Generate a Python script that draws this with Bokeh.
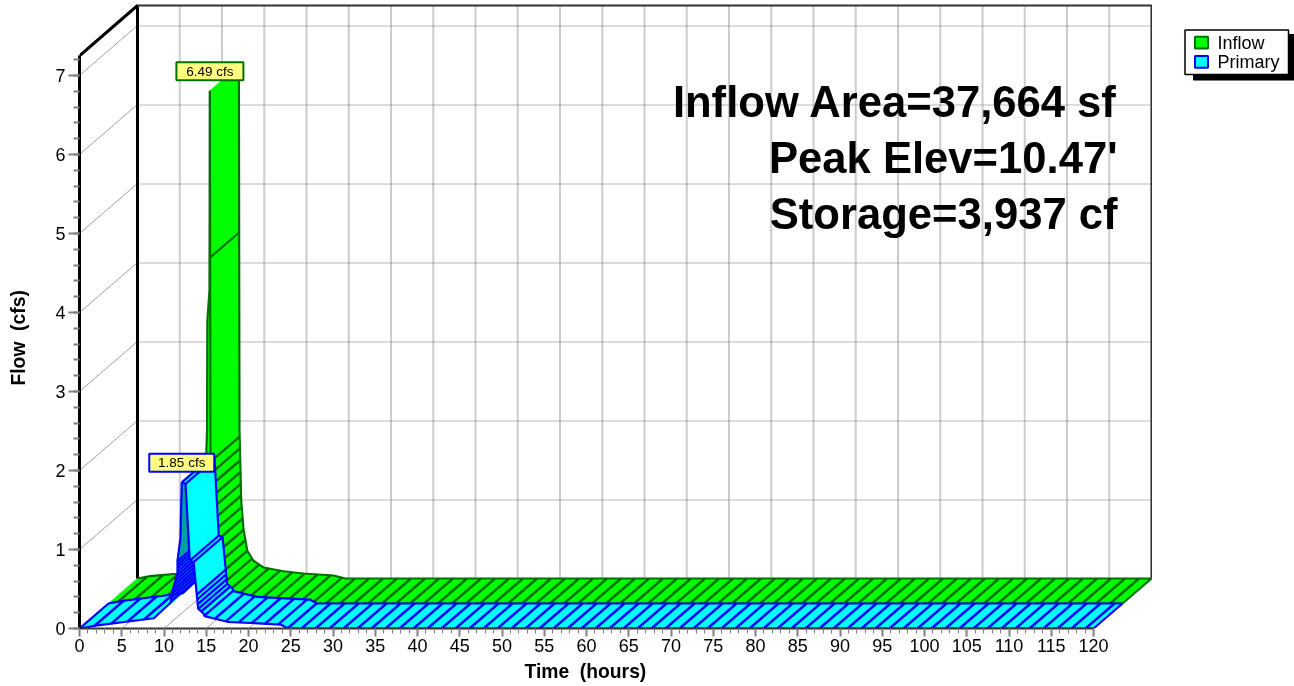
from bokeh.plotting import figure
from bokeh.layouts import row
from bokeh.models import Range1d, LinearAxis, FixedTicker, Title
from bokeh.core.properties import value
from bokeh.embed import file_html
from bokeh.resources import INLINE
import numpy as np

# ---- data ----
inflow_rise_t = [0, 1.5, 4.6, 8.0, 10.0, 11.0, 11.4, 11.66, 11.7, 11.95, 12.0]
inflow_rise_v = [0, 0.03, 0.06, 0.12, 0.30, 0.60, 1.30, 2.20, 3.58, 3.96, 6.49]
inflow_fall_t = [12.0, 12.03, 12.07, 12.27, 12.54, 12.98, 13.7, 14.9, 17.3, 19.6, 23.2, 24.6, 120]
inflow_fall_v = [6.49, 4.38, 1.87, 0.99, 0.63, 0.354, 0.228, 0.139, 0.092, 0.063, 0.038, 0, 0]
primary_rise_t = [0, 2.1, 8.8, 10.8, 11.0, 11.6, 11.6, 11.95, 12.1]
primary_rise_v = [0, 0.04, 0.13, 0.33, 0.48, 0.70, 0.86, 1.15, 1.85]
primary_fall_t = [12.1, 12.55, 13.05, 13.5, 13.85, 14.04, 14.7, 14.8, 17.5, 23.8, 24.7, 120]
primary_fall_v = [1.85, 1.83, 0.86, 0.84, 0.46, 0.25, 0.186, 0.156, 0.085, 0.05, 0, 0]
inflow_cross_t = [12.03, 120]
primary_cross_t = [12.1, 12.55, 13.05, 13.5, 120]
inflow_peak = (12.0, 6.49, "6.49 cfs")
primary_peak = (12.1, 1.85, "1.85 cfs")
notes = ["Inflow Area=37,664 sf", "Peak Elev=10.47'", "Storage=3,937 cf"]
x_ticks = list(range(0, 125, 5))
y_ticks = list(range(0, 8))
legend_labels = ["Inflow", "Primary"]

# ---- layout ----
W, H = 1294, 686
SIDE = 40                   # width of the panel with the y axis title
L, R, T, B = 79, 1152, 3, 628
PX, PY = 8.45, 79.0
DX, DY = 58 / PX, 50 / PY   # full depth of the pseudo-3D box in data units
TOP = (B - 5) / PY          # back wall top
FONT = value("Liberation Sans")
GREEN, CYAN, DGREEN, BLUE, TEAL = "#00ff00", "#00ffff", "#007000", "#0000ff", "#00a0a0"
TICK = "#808080"

side = figure(width=SIDE, height=H, output_backend="svg", toolbar_location=None,
              x_range=Range1d(0, SIDE), y_range=Range1d(H, 0), x_axis_type=None, y_axis_type=None,
              min_border=0, outline_line_color=None, background_fill_color="white")
side.grid.visible = False
side.text([18], [367], text=["Flow\u00a0\u00a0(cfs)"], angle=np.pi / 2, text_align="center", text_baseline="middle",
          text_font=FONT, text_font_size="19.3px", text_font_style="bold", text_color="black")

p = figure(width=R - SIDE, height=H, output_backend="svg", toolbar_location=None,
           x_range=Range1d(0, (R - L) / PX), y_range=Range1d(0, (B - T) / PY),
           x_axis_type=None, y_axis_type=None,
           min_border_left=L - SIDE, min_border_right=0, min_border_top=T, min_border_bottom=H - B,
           outline_line_color=None, background_fill_color="white")
p.grid.visible = False

xa = LinearAxis(ticker=FixedTicker(ticks=x_ticks, minor_ticks=list(range(0, 121))), bounds=(0, 120),
                major_label_text_font="Liberation Sans", major_label_text_color="black",
                major_label_text_font_size="18px", major_label_standoff=2,
                major_tick_out=8, major_tick_in=0, minor_tick_out=5, minor_tick_in=0,
                axis_line_color="#333333", axis_line_width=2, major_tick_line_color=TICK,
                minor_tick_line_color=TICK, major_tick_line_width=2, minor_tick_line_width=1)
ya = LinearAxis(ticker=FixedTicker(ticks=y_ticks, minor_ticks=[i / 5 for i in range(0, 37)]), bounds=(0, 7.25),
                major_label_text_font="Liberation Sans", major_label_text_color="black",
                major_label_text_font_size="18px", major_label_standoff=3,
                major_tick_out=11, major_tick_in=0, minor_tick_out=6, minor_tick_in=0,
                axis_line_color="black", axis_line_width=3, major_tick_line_color=TICK,
                minor_tick_line_color=TICK, major_tick_line_width=2, minor_tick_line_width=2)
p.add_layout(xa, "below")
p.add_layout(ya, "left")
p.add_layout(Title(text="Time\u00a0\u00a0(hours)", text_font="Liberation Sans", text_font_size="19.3px",
                   text_font_style="bold", text_color="black", align="left", offset=445, standoff=9), "below")

# walls and grids
vx = [t + DX for t in x_ticks]
p.segment(vx[1:], [DY] * (len(vx) - 1), vx[1:], [TOP] * (len(vx) - 1), line_color="#cccccc", line_width=2)
ys = y_ticks[1:]
p.segment([DX] * len(ys), [DY + y - 0.5 / PY for y in ys], [120 + DX] * len(ys), [DY + y - 0.5 / PY for y in ys],
          line_color="#707070", line_width=1, line_dash="1 1")
p.segment([0] * len(ys), ys, [DX] * len(ys), [DY + y for y in ys], line_color="#a0a0a0", line_width=1)
p.segment(x_ticks, [0] * len(x_ticks), vx, [DY] * len(vx), line_color="#a0a0a0", line_width=1)
p.line([0, DX, DX], [7.25, TOP, DY], line_color="black", line_width=3)
p.line([DX, 120 + DX, 120 + DX], [TOP, TOP, DY], line_color="#333333", line_width=2)

# annotation text lies on top of the grid
for i, s in enumerate(notes):
    p.text([(1117 - L) / PX], [(B - (101 + 56 * i)) / PY], text=[s], text_align="right",
           text_baseline="alphabetic", text_font=FONT, text_font_size="43.6px",
           text_font_style="bold", text_color="black")


def ribbon_segments(t, v, d0, d1, shade):
    xs, ys_, cols = [], [], []
    for i in range(len(t) - 1):
        xs.append([t[i] + d0 * DX, t[i + 1] + d0 * DX, t[i + 1] + d1 * DX, t[i] + d1 * DX])
        ys_.append([v[i] + d0 * DY, v[i + 1] + d0 * DY, v[i + 1] + d1 * DY, v[i] + d1 * DY])
        cols.append(shade(v[i], v[i + 1]))
    return xs, ys_, cols


def hatch_lines(t, v, d0, d1, spacing_of, phase):
    """Hatch lines run along the depth direction, equally spaced on screen."""
    x0, y0, x1, y1 = [], [], [], []
    for i in range(len(t) - 1):
        spacing = spacing_of(v[i], v[i + 1])
        if spacing is None:
            continue
        c0 = PX * t[i] - PY * (29 / 25) * v[i]
        c1 = PX * t[i + 1] - PY * (29 / 25) * v[i + 1]
        lo, hi = sorted((c0, c1))
        if hi == lo:
            continue
        for k in range(int(np.ceil((lo - phase) / spacing)), int(np.floor((hi - phase) / spacing)) + 1):
            f = (k * spacing + phase - c0) / (c1 - c0)
            tt = t[i] + f * (t[i + 1] - t[i])
            vv = v[i] + f * (v[i + 1] - v[i])
            x0.append(tt + d0 * DX); y0.append(vv + d0 * DY)
            x1.append(tt + d1 * DX); y1.append(vv + d1 * DY)
    return x0, y0, x1, y1


def draw_part(t, v, d0, d1, fill, edge, spacing_of, phase, shade=None):
    shade = shade or (lambda a, b: fill)
    xs, ys_, cols = ribbon_segments(t, v, d0, d1, shade)
    p.patches(xs, ys_, fill_color=cols, line_color=cols, line_width=0.5)
    hx = hatch_lines(t, v, d0, d1, spacing_of, phase)
    p.segment(*hx, line_color=edge, line_width=2.5)
    p.line([a + d0 * DX for a in t], [a + d0 * DY for a in v], line_color=edge, line_width=2.2)
    p.line([a + d1 * DX for a in t], [a + d1 * DY for a in v], line_color=edge, line_width=2.2)


def crosses(cross_t, t, v, d0, d1, edge):
    vv = np.interp(cross_t, t, v)
    p.segment([a + d0 * DX for a in cross_t], [a + d0 * DY for a in vv],
              [a + d1 * DX for a in cross_t], [a + d1 * DY for a in vv], line_color=edge, line_width=2.2)


def inflow_spacing(a, b):
    return 14.0 if max(a, b) <= 1.9 else None


def primary_rise_spacing(a, b):
    if max(a, b) > 0.9:
        return None
    return 4.0 if max(a, b) > 0.2 else 14.0


def primary_fall_spacing(a, b):
    if max(a, b) > 0.55:
        return None
    return 6.0 if max(a, b) > 0.2 else 14.0


# Inflow sits in the rear half of the box, Primary in the front half
draw_part(inflow_rise_t, inflow_rise_v, 0.5, 1, GREEN, DGREEN, inflow_spacing, 7.5)
draw_part(inflow_fall_t, inflow_fall_v, 0.5, 1, GREEN, DGREEN, inflow_spacing, 7.5)
crosses(inflow_cross_t, inflow_fall_t, inflow_fall_v, 0.5, 1, DGREEN)

draw_part(primary_rise_t, primary_rise_v, 0, 0.5, CYAN, BLUE, primary_rise_spacing, 12.0,
          shade=lambda a, b: TEAL if (b > a and b > 0.9) else CYAN)
draw_part(primary_fall_t, primary_fall_v, 0, 0.5, CYAN, BLUE, primary_fall_spacing, 12.0)
crosses(primary_cross_t, primary_fall_t, primary_fall_v, 0, 0.5, BLUE)
p.segment([0], [0], [0.5 * DX], [0.5 * DY], line_color=BLUE, line_width=2.2)


# peak flags
def flag(peak, d, half_w, edge):
    t, v, s = peak
    cx = t + d * DX
    bottom = v + d * DY + 10.5 / PY
    p.quad([cx - half_w / PX], [cx + half_w / PX], [bottom + 18 / PY], [bottom],
           fill_color="#ffff80", line_color=edge, line_width=2)
    p.text([cx], [bottom + 9 / PY], text=[s], text_align="center", text_baseline="middle",
           text_font=FONT, text_font_size="13.5px", text_color="black")


flag(inflow_peak, 0.5, 33.5, DGREEN)
flag(primary_peak, 0, 32.5, BLUE)

# legend panel: its range is in page pixels, so that box and shadow can be placed exactly
lg = figure(width=W - R, height=H, output_backend="svg", toolbar_location=None,
            x_range=Range1d(R, W), y_range=Range1d(H, 0), x_axis_type=None, y_axis_type=None,
            min_border=0, outline_line_color=None, background_fill_color="white")
lg.grid.visible = False
lg.quad([1193], [1294], [34], [84], fill_color="black", line_color="black")
lg.quad([1184.5], [1288], [29], [78], fill_color="white", line_color="black", line_width=1.5)
lg.quad([1194.5, 1194.5], [1207.5, 1207.5], [36.5, 57.5], [49.5, 70.5], fill_color=[GREEN, CYAN],
        line_color=[DGREEN, BLUE], line_width=2)
lg.text([1217, 1217], [43.5, 64.5], text=legend_labels, text_baseline="middle", text_font=FONT,
        text_font_size="18px", text_color="black")

page = row(side, p, lg, spacing=0)
page.styles = {"position": "fixed", "left": "0px", "top": "0px"}
open("out.html", "w").write(file_html(page, INLINE))
